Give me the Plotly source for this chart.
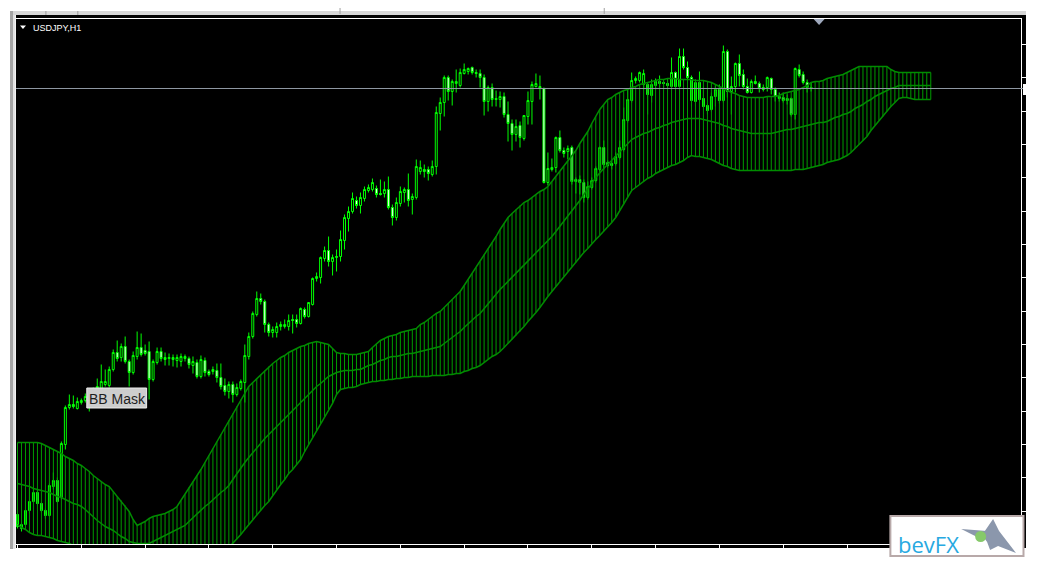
import plotly.graph_objects as go

# ---------------- data (price in points; 200 hourly candles + 30 forward-shifted band bars)
symbol_label = "USDJPY,H1"
indicator_label = "BB Mask"
logo_text = "bevFX"
bid_price = 471
n_candles = 200
n_band = 230
x_tick_bars = list(range(0, 241, 16))

open_ = [45, 31, 35, 49, 58, 67, 56, 49, 44, 73,
         79, 62, 115, 152, 155, 151, 157, 159, 163, 161,
         167, 171, 175, 174, 190, 207, 202, 213, 198, 187,
         203, 212, 209, 208, 180, 197, 208, 202, 201, 202,
         199, 198, 203, 201, 194, 197, 183, 199, 188, 188,
         189, 182, 174, 168, 175, 165, 171, 177, 203, 223,
         245, 261, 258, 235, 227, 227, 233, 233, 233, 240,
         240, 236, 250, 243, 255, 281, 282, 301, 309, 298,
         302, 303, 319, 341, 348, 359, 354, 361, 369, 370,
         371, 366, 366, 370, 352, 342, 356, 367, 370, 360,
         362, 388, 390, 390, 385, 393, 446, 457, 482, 468,
         476, 474, 486, 488, 492, 487, 486, 482, 458, 472,
         461, 460, 463, 445, 436, 425, 434, 421, 443, 458,
         473, 473, 471, 377, 390, 392, 422, 409, 408, 412,
         380, 380, 377, 362, 372, 379, 390, 412, 397, 396,
         396, 402, 410, 439, 459, 479, 479, 475, 475, 464,
         474, 478, 477, 476, 473, 487, 473, 503, 492, 482,
         458, 477, 461, 454, 450, 463, 470, 459, 508, 468,
         473, 496, 485, 473, 467, 478, 476, 472, 472, 481,
         470, 463, 462, 461, 461, 445, 490, 485, 477, 472]

high = [49, 37, 59, 72, 72, 70, 57, 51, 76, 87,
        82, 118, 154, 165, 164, 162, 161, 166, 165, 172,
        181, 195, 190, 193, 210, 219, 216, 223, 200, 208,
        228, 226, 215, 218, 200, 212, 212, 207, 206, 205,
        205, 206, 205, 203, 203, 200, 204, 202, 190, 193,
        196, 196, 181, 178, 178, 176, 180, 215, 227, 248,
        268, 266, 260, 237, 233, 237, 238, 240, 245, 245,
        245, 252, 252, 257, 282, 287, 303, 313, 323, 305,
        310, 329, 345, 353, 367, 363, 367, 373, 375, 381,
        374, 380, 378, 383, 355, 362, 373, 372, 386, 366,
        400, 399, 395, 393, 399, 453, 462, 484, 484, 480,
        490, 491, 496, 492, 493, 490, 490, 485, 474, 476,
        469, 468, 467, 458, 440, 440, 438, 444, 468, 478,
        486, 484, 472, 407, 401, 423, 429, 412, 414, 414,
        382, 384, 380, 378, 382, 393, 413, 419, 399, 399,
        407, 419, 452, 470, 487, 483, 488, 490, 477, 480,
        481, 484, 480, 480, 502, 488, 511, 511, 498, 484,
        480, 488, 473, 456, 467, 475, 475, 514, 510, 483,
        497, 505, 490, 481, 480, 484, 478, 475, 483, 482,
        472, 467, 467, 465, 462, 492, 495, 488, 480, 477]

low = [31, 28, 33, 46, 57, 54, 47, 41, 43, 70,
       57, 60, 110, 150, 151, 150, 155, 157, 148, 158,
       164, 168, 173, 172, 188, 198, 198, 196, 173, 185,
       200, 203, 204, 160, 178, 195, 198, 194, 194, 193,
       192, 193, 198, 191, 186, 181, 181, 183, 183, 185,
       177, 170, 164, 161, 157, 163, 169, 157, 200, 221,
       243, 255, 227, 223, 222, 222, 229, 231, 229, 226,
       232, 235, 241, 242, 254, 278, 276, 298, 293, 284,
       288, 298, 310, 328, 346, 351, 346, 358, 367, 368,
       362, 364, 362, 350, 334, 339, 353, 357, 353, 345,
       360, 385, 382, 379, 383, 385, 429, 443, 459, 454,
       467, 472, 485, 485, 485, 482, 472, 444, 448, 453,
       453, 452, 442, 418, 409, 418, 412, 419, 435, 435,
       472, 460, 376, 374, 388, 387, 407, 402, 400, 375,
       366, 365, 357, 360, 370, 377, 388, 390, 392, 390,
       394, 400, 408, 437, 457, 476, 477, 470, 445, 457,
       470, 472, 472, 471, 471, 470, 465, 490, 475, 453,
       453, 458, 452, 445, 448, 453, 456, 457, 462, 445,
       467, 473, 470, 466, 466, 475, 467, 468, 468, 465,
       458, 458, 457, 455, 443, 440, 482, 475, 467, 468]

close = [33, 35, 49, 58, 67, 56, 49, 44, 74, 79,
         58, 116, 152, 155, 153, 158, 159, 163, 152, 167,
         173, 178, 178, 190, 207, 201, 213, 198, 187, 204,
         212, 205, 206, 180, 198, 208, 201, 200, 202, 200,
         202, 203, 201, 195, 198, 183, 200, 187, 185, 190,
         182, 173, 168, 175, 165, 172, 178, 204, 223, 246,
         261, 258, 235, 227, 230, 233, 235, 235, 239, 239,
         236, 251, 243, 257, 281, 283, 302, 309, 298, 302,
         303, 320, 342, 348, 361, 354, 362, 370, 372, 377,
         365, 365, 370, 352, 342, 357, 368, 370, 359, 363,
         393, 392, 388, 386, 393, 447, 457, 482, 468, 478,
         478, 487, 490, 491, 487, 486, 482, 458, 472, 460,
         460, 463, 445, 436, 425, 433, 422, 444, 459, 475,
         476, 471, 377, 391, 392, 422, 409, 406, 411, 378,
         378, 377, 362, 373, 379, 391, 412, 395, 394, 394,
         403, 412, 440, 460, 479, 481, 487, 486, 465, 475,
         478, 476, 476, 474, 487, 473, 503, 492, 482, 459,
         477, 460, 453, 449, 463, 470, 459, 508, 468, 473,
         496, 484, 473, 467, 478, 476, 471, 470, 482, 470,
         463, 461, 459, 459, 445, 491, 484, 477, 472, 471]

bb_upper = [117, 117, 117, 117, 117, 117, 116, 114, 112, 110,
            108, 106, 103, 101, 99, 96, 94, 91, 88, 84,
            81, 78, 75, 73, 68, 63, 59, 54, 48, 40,
            34, 36, 38, 41, 43, 44, 45, 46, 48, 50,
            53, 59, 65, 72, 78, 84, 90, 97, 104, 111,
            118, 125, 132, 139, 146, 153, 160, 167, 173, 177,
            181, 185, 189, 193, 196, 199, 202, 204, 207, 209,
            211, 213, 214, 216, 217, 218, 217, 216, 215, 211,
            207, 206, 206, 205, 205, 205, 206, 207, 208, 212,
            216, 219, 221, 223, 224, 225, 227, 228, 229, 230,
            231, 235, 237, 240, 243, 246, 248, 252, 256, 260,
            264, 268, 274, 280, 286, 292, 298, 305, 311, 317,
            323, 330, 336, 342, 346, 350, 354, 357, 359, 362,
            365, 368, 370, 373, 378, 383, 388, 393, 399, 404,
            409, 416, 422, 428, 436, 443, 450, 455, 460, 462,
            465, 467, 469, 470, 472, 473, 475, 476, 477, 478,
            479, 480, 480, 481, 481, 481, 480, 480, 480, 480,
            479, 479, 479, 478, 477, 475, 473, 471, 469, 467,
            466, 464, 463, 462, 462, 462, 462, 462, 463, 463,
            463, 464, 466, 467, 468, 469, 470, 472, 474, 477,
            478, 478, 479, 481, 482, 483, 484, 485, 487, 489,
            491, 493, 493, 493, 493, 493, 493, 493, 493, 490,
            488, 487, 487, 487, 487, 487, 487, 487, 487, 487]

bb_middle = [76, 75, 74, 73, 71, 70, 69, 68, 67, 65,
             63, 62, 60, 58, 56, 55, 53, 50, 46, 43,
             39, 36, 33, 31, 29, 26, 23, 21, 18, 17,
             16, 16, 16, 16, 18, 20, 22, 24, 26, 28,
             30, 32, 34, 38, 42, 45, 49, 53, 56, 60,
             63, 67, 70, 74, 80, 86, 91, 97, 102, 107,
             112, 117, 121, 125, 129, 133, 137, 141, 145, 149,
             153, 157, 161, 165, 169, 173, 176, 180, 183, 185,
             187, 188, 189, 189, 189, 190, 190, 192, 194, 195,
             197, 199, 200, 202, 203, 203, 204, 205, 206, 206,
             207, 208, 209, 210, 211, 212, 213, 216, 219, 222,
             225, 228, 232, 236, 239, 243, 246, 251, 256, 260,
             265, 270, 274, 278, 282, 286, 290, 294, 298, 302,
             306, 310, 314, 318, 323, 328, 333, 339, 344, 349,
             353, 359, 365, 370, 376, 382, 387, 391, 395, 399,
             403, 407, 412, 416, 420, 422, 424, 426, 427, 429,
             431, 432, 434, 435, 437, 438, 439, 440, 441, 441,
             441, 441, 440, 439, 438, 437, 436, 434, 433, 431,
             430, 429, 428, 427, 426, 426, 426, 426, 426, 426,
             427, 428, 429, 430, 430, 431, 432, 433, 434, 435,
             436, 437, 437, 438, 440, 442, 443, 445, 446, 448,
             451, 453, 455, 458, 460, 463, 465, 467, 469, 471,
             472, 474, 474, 474, 474, 474, 474, 474, 474, 474]

bb_lower = [35, 32, 30, 27, 25, 24, 24, 23, 22, 21,
            19, 18, 17, 16, 14, 13, 12, 8, 5, 1,
            -3, -6, -8, -9, -10, -12, -13, -10, -8, -5,
            -2, -2, -2, -2, -1, -1, -1, 0, 2, 3,
            4, 5, 5, 6, 7, 8, 8, 9, 9, 9,
            10, 10, 10, 12, 16, 20, 25, 30, 35, 40,
            44, 49, 54, 58, 64, 70, 75, 80, 86, 90,
            95, 100, 108, 115, 122, 129, 136, 143, 150, 156,
            165, 170, 171, 172, 172, 173, 175, 176, 177, 178,
            178, 179, 179, 180, 180, 181, 181, 182, 182, 183,
            183, 183, 183, 183, 184, 184, 184, 184, 185, 185,
            186, 186, 188, 189, 191, 192, 194, 197, 200, 203,
            205, 208, 212, 216, 220, 224, 228, 233, 238, 242,
            247, 252, 258, 263, 268, 273, 278, 283, 288, 293,
            297, 302, 307, 311, 316, 320, 324, 328, 333, 337,
            342, 349, 355, 362, 369, 372, 375, 378, 381, 383,
            386, 388, 390, 392, 394, 395, 397, 399, 402, 404,
            403, 403, 402, 401, 400, 398, 396, 394, 393, 391,
            390, 389, 389, 389, 389, 389, 389, 389, 389, 389,
            389, 389, 389, 389, 389, 390, 390, 390, 391, 392,
            393, 394, 395, 397, 398, 399, 400, 402, 404, 407,
            411, 415, 419, 423, 429, 434, 439, 443, 448, 453,
            457, 461, 462, 462, 461, 460, 460, 460, 460, 460]

# ---------------- figure
# The page body has an 8px margin, so the figure is placed at (8, 8) in the window.
PAGE_OFF = 8
W, H = 1040 - 2 * PAGE_OFF, 571 - 2 * PAGE_OFF
L, R, T, B = 15, 1023, 19, 544  # plot area in window pixels
X_RANGE = [-0.375, -0.375 + (R - L) / 4.0]   # 4 px per bar, bar centres on pixel centres
Y_RANGE = [15.5, 15.5 + (B - T)]             # 1 px per point


def px(x):
    return (x - L) / (R - L)


def py(y):
    return (B - y) / (B - T)


bars = list(range(n_band))
candle_x = bars[:n_candles]

hx, hy = [], []
for i in bars:
    hx += [i, i, None]
    hy += [bb_lower[i], bb_upper[i], None]

hatch_green = "#009c00"
edge_green = "#008c00"
fig = go.Figure()
fig.add_trace(go.Scatter(x=hx, y=hy, mode="lines", line=dict(color=hatch_green, width=1),
                         hoverinfo="skip"))
for arr in (bb_upper, bb_middle, bb_lower):
    fig.add_trace(go.Scatter(x=bars, y=arr, mode="lines",
                             line=dict(color=edge_green, width=1.5), hoverinfo="skip"))

fig.add_trace(go.Scatter(x=X_RANGE, y=[bid_price, bid_price], mode="lines",
                         line=dict(color="#8e97a2", width=1), hoverinfo="skip"))

fig.add_trace(go.Candlestick(
    x=candle_x, open=open_, high=high, low=low, close=close,
    increasing=dict(line=dict(color="#00ff00", width=1), fillcolor="black"),
    decreasing=dict(line=dict(color="#00ff00", width=1), fillcolor="white"),
    whiskerwidth=0, hoverinfo="skip"))

shapes = []
# window chrome
shapes.append(dict(type="rect", xref="paper", yref="paper", x0=px(15), x1=px(1028),
                   y0=py(548), y1=py(15), fillcolor="black", line=dict(width=0), layer="below"))
shapes.append(dict(type="rect", xref="paper", yref="paper", x0=px(9), x1=px(1028),
                   y0=py(15), y1=py(11), fillcolor="#d6d6d6", line=dict(width=0), layer="above"))
shapes.append(dict(type="rect", xref="paper", yref="paper", x0=px(9), x1=px(12),
                   y0=py(549), y1=py(11), fillcolor="#a4a4a4", line=dict(width=0), layer="above"))
shapes.append(dict(type="rect", xref="paper", yref="paper", x0=px(12), x1=px(14.5),
                   y0=py(549), y1=py(15), fillcolor="#e2e2e2", line=dict(width=0), layer="above"))
for mx in (45, 77):
    shapes.append(dict(type="line", xref="paper", yref="paper", x0=px(mx), x1=px(mx),
                       y0=py(15), y1=py(11), line=dict(color="#9a9a9a", width=1), layer="above"))
for mx in (340, 605):
    shapes.append(dict(type="line", xref="paper", yref="paper", x0=px(mx), x1=px(mx),
                       y0=py(14), y1=py(8), line=dict(color="#a0a0a0", width=1), layer="above"))
# bid line extension + price marker
shapes.append(dict(type="line", xref="paper", yref="paper", x0=px(1023), x1=px(1028),
                   y0=py(88.5), y1=py(88.5), line=dict(color="#8e97a2", width=1), layer="above"))
shapes.append(dict(type="rect", xref="paper", yref="paper", x0=px(1025), x1=px(1030),
                   y0=py(95), y1=py(84), fillcolor="white", line=dict(width=0), layer="above"))
# shift marker triangle
shapes.append(dict(type="path", xref="paper", yref="paper",
                   path=f"M {px(815)} {py(19)} L {px(826)} {py(19)} L {px(820.5)} {py(25)} Z",
                   fillcolor="#9fa9bd", line=dict(width=0), layer="above"))
# title triangle
shapes.append(dict(type="path", xref="paper", yref="paper",
                   path=f"M {px(19)} {py(25.5)} L {px(25)} {py(25.5)} L {px(22)} {py(29)} Z",
                   fillcolor="white", line=dict(width=0), layer="above"))
# BB Mask label box
shapes.append(dict(type="rect", xref="paper", yref="paper", x0=px(86), x1=px(146),
                   y0=py(408), y1=py(388), fillcolor="#cdcdcd", line=dict(color="#ececec", width=1),
                   layer="above"))
# logo
shapes.append(dict(type="rect", xref="paper", yref="paper", x0=px(892), x1=px(1025.5),
                   y0=py(556), y1=py(516), fillcolor="white", line=dict(color="#b8a9a9", width=2),
                   layer="above"))
shapes.append(dict(type="path", xref="paper", yref="paper",
                   path=(f"M {px(963)} {py(529)} L {px(989)} {py(531)} L {px(993)} {py(540)} "
                         f"L {px(979)} {py(537)} Z"),
                   fillcolor="#8b97ac", line=dict(width=0), layer="above"))
shapes.append(dict(type="path", xref="paper", yref="paper",
                   path=(f"M {px(984)} {py(535)} L {px(995)} {py(519)} L {px(1001)} {py(531)} "
                         f"L {px(1018)} {py(553)} L {px(1000)} {py(546)} L {px(992)} {py(550)} "
                         f"L {px(989)} {py(542)} Z"),
                   fillcolor="#8b97ac", line=dict(width=0), layer="above"))
shapes.append(dict(type="circle", xref="paper", yref="paper", x0=px(977), x1=px(988),
                   y0=py(542), y1=py(531), fillcolor="#86c96a", line=dict(width=0), layer="above"))

annotations = [
    dict(text=symbol_label, xref="paper", yref="paper", x=px(30), y=py(27.5), xanchor="left",
         yanchor="middle", showarrow=False, font=dict(family="Liberation Sans", size=9, color="white")),
    dict(text=indicator_label, xref="paper", yref="paper", x=px(117), y=py(399), xanchor="center",
         yanchor="middle", showarrow=False, font=dict(family="Liberation Sans", size=14, color="#1e1e1e")),
    dict(text=logo_text, xref="paper", yref="paper", x=px(898), y=py(544), xanchor="left",
         yanchor="middle", showarrow=False, font=dict(family="Open Sans", size=22, color="#27a9e1")),
]

fig.update_layout(
    width=W, height=H,
    margin=dict(l=L - PAGE_OFF, r=W - (R - PAGE_OFF), t=T - PAGE_OFF, b=H - (B - PAGE_OFF)),
    paper_bgcolor="white", plot_bgcolor="black", showlegend=False,
    shapes=shapes, annotations=annotations,
    xaxis=dict(range=X_RANGE, showgrid=False, zeroline=False, showline=True,
               linecolor="white", linewidth=1, mirror=True, ticks="outside", ticklen=4,
               tickcolor="white", tickvals=x_tick_bars, showticklabels=False,
               rangeslider=dict(visible=False), fixedrange=True),
    yaxis=dict(range=Y_RANGE, side="right", showgrid=False, zeroline=False, showline=True,
               linecolor="white", linewidth=1, mirror=True, ticks="outside", ticklen=4,
               tickcolor="white", tick0=15, dtick=100 / 3, showticklabels=False, fixedrange=True),
)

fig.write_html("out.html")
